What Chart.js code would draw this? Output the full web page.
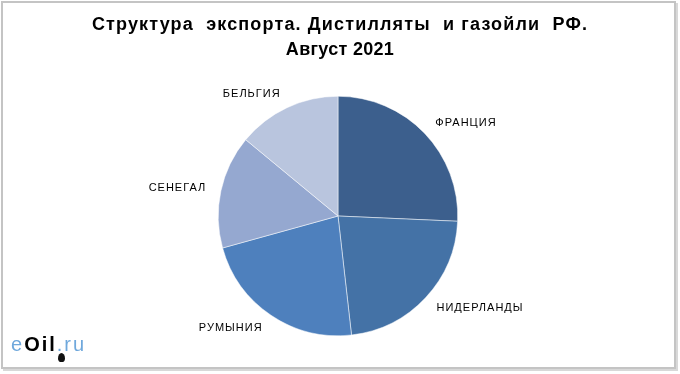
<!DOCTYPE html>
<html>
<head>
<meta charset="utf-8">
<script src="https://cdn.jsdelivr.net/npm/chart.js@4.4.0/dist/chart.umd.min.js"></script>
<style>
    html, body { margin: 0; padding: 0; background: #fff; }
    #wrap { position: relative; width: 680px; height: 374px; }
    #frame { position: absolute; left: 1px; top: 1px; width: 671px; height: 364px; border: 2px solid #c4c4c4; box-shadow: 2px 2px 0 #d8d8d8; }
    #chart { position: absolute; left: 0; top: 0; }
    .title { position: absolute; left: 0; width: 680px; text-align: center; font: bold 18px "Liberation Sans", Arial, sans-serif; color: #000; white-space: pre; }
    #t1 { top: 14px; letter-spacing: 1.15px; }
    #t2 { top: 39px; letter-spacing: 0.3px; }
    #logo { position: absolute; left: 11px; top: 333px; font: 20px "Liberation Sans", Arial, sans-serif; letter-spacing: 2px; color: #6fa8dc; }
    #logo b { color: #000; }
    #drop { position: absolute; left: 58px; top: 353px; width: 7px; height: 9px; background: #111; border-radius: 50% 50% 50% 50% / 60% 60% 40% 40%; }
</style>
</head>
<body>
<div id="wrap">
    <div id="frame"></div>
    <canvas id="chart" width="680" height="374"></canvas>
    <div class="title" id="t1"></div>
    <div class="title" id="t2"></div>
    <div id="logo">e<b>Oil</b>.ru</div>
    <div id="drop"></div>
</div>
<script>
    // данные (доли, %)
    const countries = ['ФРАНЦИЯ', 'НИДЕРЛАНДЫ', 'РУМЫНИЯ', 'СЕНЕГАЛ', 'БЕЛЬГИЯ'];
    const shares = [25.7, 22.5, 22.5, 15.3, 14.0];
    const sliceColors = ['#3c5f8d', '#4472a6', '#4e80bd', '#95a8d0', '#b9c5de'];
    const titleLines = ['Структура  экспорта. Дистилляты  и газойли  РФ.', 'Август 2021'];

    document.getElementById('t1').textContent = titleLines[0];
    document.getElementById('t2').textContent = titleLines[1];

    // подписи категорий снаружи круга
    const outsideLabels = {
        id: 'outsideLabels',
        afterDatasetsDraw(chart) {
            const { ctx } = chart;
            const meta = chart.getDatasetMeta(0);
            ctx.save();
            ctx.font = '11px "Liberation Sans", Arial, sans-serif';
            ctx.letterSpacing = '1px';
            ctx.fillStyle = '#000';
            ctx.textBaseline = 'middle';
            meta.data.forEach((arc, i) => {
                const mid = (arc.startAngle + arc.endAngle) / 2;
                const r = arc.outerRadius + 15;
                const x = arc.x + r * Math.cos(mid);
                const y = arc.y + r * Math.sin(mid);
                ctx.textAlign = Math.cos(mid) >= 0 ? 'left' : 'right';
                ctx.fillText(chart.data.labels[i], x, y);
            });
            ctx.restore();
        }
    };

    new Chart(document.getElementById('chart'), {
        type: 'pie',
        data: {
            labels: countries,
            datasets: [{ data: shares, backgroundColor: sliceColors, borderColor: '#ffffff', borderWidth: 0.5 }]
        },
        options: {
            responsive: false,
            animation: false,
            layout: { padding: { top: 96, bottom: 38, left: 0, right: 4 } },
            plugins: {
                legend: { display: false },
                tooltip: { enabled: false },
                title: { display: false }
            }
        },
        plugins: [outsideLabels]
    });
</script>
</body>
</html>
